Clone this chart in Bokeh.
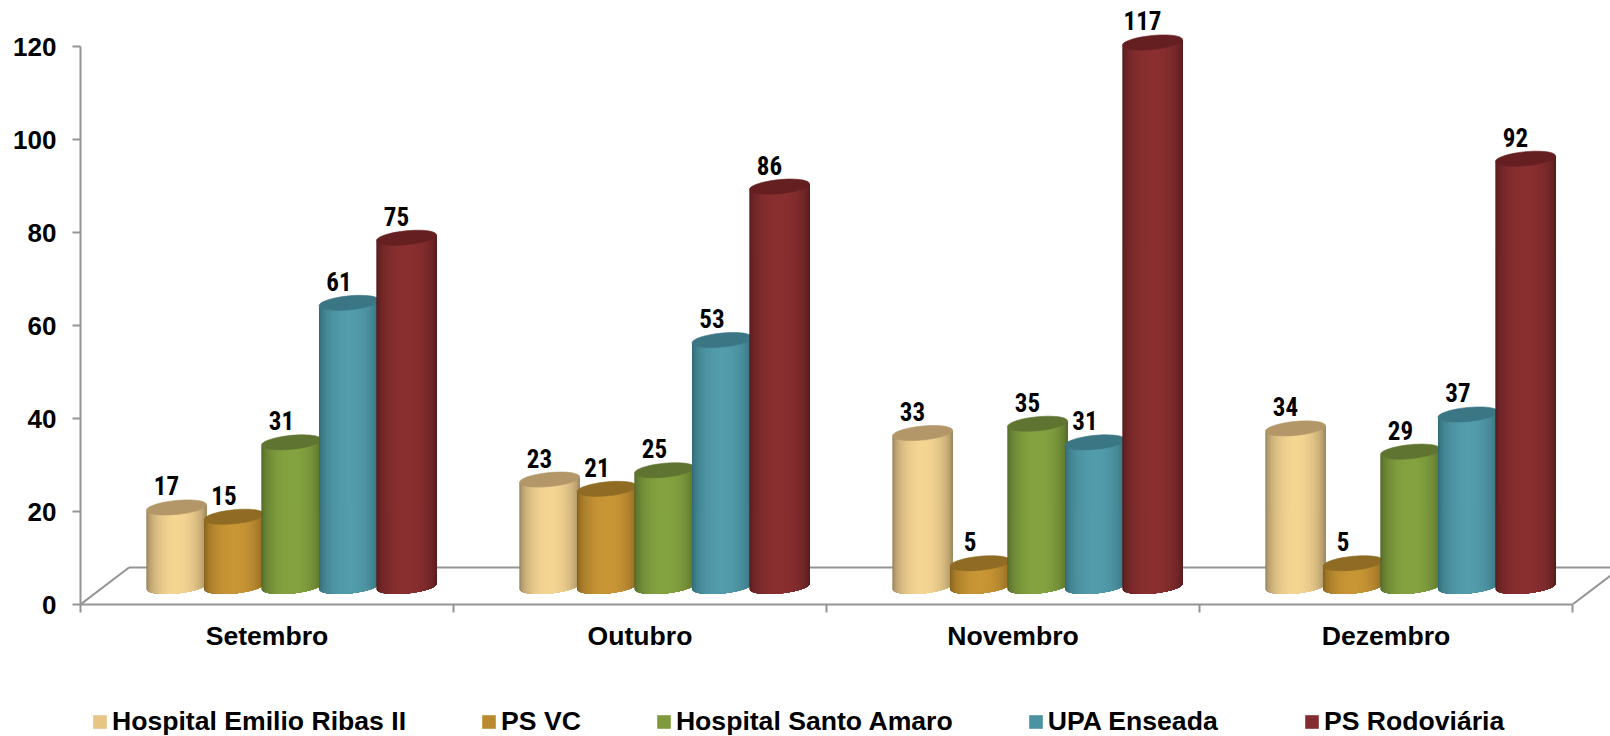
import math
from bokeh.plotting import figure
from bokeh.layouts import column
from bokeh.models import Range1d, FixedTicker, Legend, LegendItem, ColumnDataSource
from bokeh.core.properties import value
from bokeh.embed import file_html
from bokeh.resources import INLINE

months = ["Setembro", "Outubro", "Novembro", "Dezembro"]
series_names = ["Hospital Emilio Ribas II", "PS VC", "Hospital Santo Amaro", "UPA Enseada", "PS Rodoviária"]
hospital_emilio = [17, 23, 33, 34]
ps_vc = [15, 21, 5, 5]
hospital_santo_amaro = [31, 25, 35, 29]
upa_enseada = [61, 53, 31, 37]
ps_rodoviaria = [75, 86, 117, 92]
y_ticks = [0, 20, 40, 60, 80, 100, 120]
all_series = [hospital_emilio, ps_vc, hospital_santo_amaro, upa_enseada, ps_rodoviaria]

swatch_colors = ["#E6C585", "#BC8A2E", "#7E9A3C", "#4A93A3", "#842D30"]
centre_colors = ["#F5D592", "#C99635", "#84A340", "#529CAB", "#8A2F30"]
edge_colors = ["#8E7A55", "#7E5A1C", "#4E6226", "#2E6470", "#521A1C"]
top_colors = ["#B39768", "#8F6B24", "#5F7430", "#3A7683", "#651F21"]

FONT = "Liberation Sans"
AXIS_GREY = "#949494"

PX_PER_CAT = 373.0
PX_PER_UNIT = 4.65
FRAME_LEFT, FRAME_H, FIG_W, FIG_H = 80, 604, 1610, 666
LEGEND_H = 70

def xu(px):
    return px / PX_PER_CAT

def yu(px):
    return px / PX_PER_UNIT

DEPTH_Y = yu(18)
DEPTH_X = xu(24.5)
PITCH = xu(57.5)
RX = xu(30)
RY = yu(7.0)
TILT = yu(2.8)
STRIPS = 30

def hex2rgb(h):
    return tuple(int(h[i:i + 2], 16) for i in (1, 3, 5))

def mix(a, b, t):
    ca, cb = hex2rgb(a), hex2rgb(b)
    return "#%02x%02x%02x" % tuple(round(ca[i] + (cb[i] - ca[i]) * t) for i in range(3))

p = figure(width=FIG_W, height=FIG_H, output_backend="svg", toolbar_location=None,
           x_range=Range1d(0, (FIG_W - FRAME_LEFT) / PX_PER_CAT),
           y_range=Range1d(0, FRAME_H / PX_PER_UNIT),
           min_border_left=FRAME_LEFT, min_border_right=0, min_border_top=0,
           min_border_bottom=FIG_H - FRAME_H,
           outline_line_color=None, background_fill_color=None, border_fill_color=None)
p.grid.visible = False

# floor of the 3-D box
fx = xu(48.5)
fy = yu(37)
p.line([0, fx], [0, fy], line_color=AXIS_GREY, line_width=2)
p.line([fx, (FIG_W - FRAME_LEFT) / PX_PER_CAT], [fy, fy], line_color=AXIS_GREY, line_width=2)
p.line([4, 4 + fx], [0, fy], line_color=AXIS_GREY, line_width=2)

# cylinders: each band runs to the right edge and is overpainted by the next, so no seams
for i in range(len(months)):
    for j, vals in enumerate(all_series):
        cx = i + 0.5 + DEPTH_X + (j - 2) * PITCH
        v = vals[i]
        xs, ys, cols = [], [], []
        for s in range(STRIPS):
            a0 = math.pi - math.pi * s / STRIPS
            arc = [a0 * (1 - q / 14) for q in range(15)]
            px = [cx + RX * math.cos(a) for a in arc]
            lo = [DEPTH_Y - RY * math.sin(a) + TILT * math.cos(a) for a in arc]
            hi = [DEPTH_Y + v - RY * math.sin(a) + TILT * math.cos(a) for a in arc]
            xs.append(px + px[::-1])
            ys.append(lo + hi[::-1])
            t = math.sin(math.pi * (s + 0.5) / STRIPS)
            cols.append(mix(edge_colors[j], centre_colors[j], t ** 1.1))
        p.patches(xs, ys, fill_color=cols, line_color=None)
        n = 48
        ex = [cx + RX * math.cos(2 * math.pi * k / n) for k in range(n)]
        ey = [DEPTH_Y + v + RY * math.sin(2 * math.pi * k / n) + TILT * math.cos(2 * math.pi * k / n) for k in range(n)]
        p.patch(ex, ey, fill_color=top_colors[j], line_color=top_colors[j], line_width=0.6)

# data labels
lx, ly, lt = [], [], []
for i in range(len(months)):
    for j, vals in enumerate(all_series):
        lx.append(i + 0.5 + DEPTH_X + (j - 2) * PITCH)
        ly.append(DEPTH_Y + vals[i])
        lt.append(str(vals[i]))
p.text(x=lx, y=ly, text=lt, x_offset=-10, y_offset=-21.5, text_align="center", text_baseline="middle",
       text_color="#000000", text_font=value("Roboto Condensed, Roboto"), text_font_style="bold",
       text_font_size="25px")

# axes
ya = p.yaxis[0]
ya.ticker = FixedTicker(ticks=y_ticks)
ya.bounds = (0, 120)
ya.axis_line_color = AXIS_GREY
ya.axis_line_width = 2
ya.major_tick_line_color = AXIS_GREY
ya.major_tick_line_width = 2
ya.major_tick_in = 0
ya.major_tick_out = 8
ya.minor_tick_line_color = None
ya.major_label_text_font = FONT
ya.major_label_text_font_style = "bold"
ya.major_label_text_font_size = "26px"
ya.major_label_text_color = "#000000"
ya.major_label_standoff = 16

xa = p.xaxis[0]
centres = [i + 0.5 for i in range(len(months))]
xa.ticker = FixedTicker(ticks=centres, minor_ticks=[0, 1, 2, 3, 4])
xa.major_label_overrides = {c: m for c, m in zip(centres, months)}
xa.bounds = (0, 4)
xa.axis_line_color = AXIS_GREY
xa.axis_line_width = 2
xa.major_tick_line_color = None
xa.major_tick_in = 0
xa.major_tick_out = 0
xa.minor_tick_line_color = AXIS_GREY
xa.minor_tick_line_width = 2
xa.minor_tick_in = 0
xa.minor_tick_out = 8
xa.major_label_text_font = FONT
xa.major_label_text_font_style = "bold"
xa.major_label_text_font_size = "26.6px"
xa.major_label_text_color = "#000000"
xa.major_label_standoff = 8

# legend in its own strip under the chart
q = figure(width=FIG_W, height=LEGEND_H, output_backend="svg", toolbar_location=None,
           x_range=Range1d(0, 1), y_range=Range1d(0, 1),
           min_border_left=0, min_border_right=0, min_border_top=0, min_border_bottom=0,
           outline_line_color=None, background_fill_color=None, border_fill_color=None)
q.axis.visible = False
q.grid.visible = False
items = []
for name, col in zip(series_names, swatch_colors):
    # one quad outside the strip's range: the legend needs a row to take its colour from
    src = ColumnDataSource(dict(l=[-2], r=[-1], b=[-2], t=[-1]))
    r = q.quad(left="l", right="r", bottom="b", top="t", source=src, fill_color=col, line_color=None)
    items.append(LegendItem(label=value(name), renderers=[r]))

legend_style = dict(orientation="horizontal", padding=0, margin=0, glyph_width=17, glyph_height=17,
                    label_standoff=4, label_text_font=FONT, label_text_font_style="bold",
                    label_text_font_size="26.6px", label_text_color="#000000",
                    background_fill_alpha=0, border_line_color=None)
q.add_layout(Legend(items=items[:4], location=(11, -1), spacing=74, **legend_style))
q.add_layout(Legend(items=items[4:], location=(1223, -1), **legend_style))

open("out.html", "w").write(file_html(column(p, q, spacing=0), INLINE))
